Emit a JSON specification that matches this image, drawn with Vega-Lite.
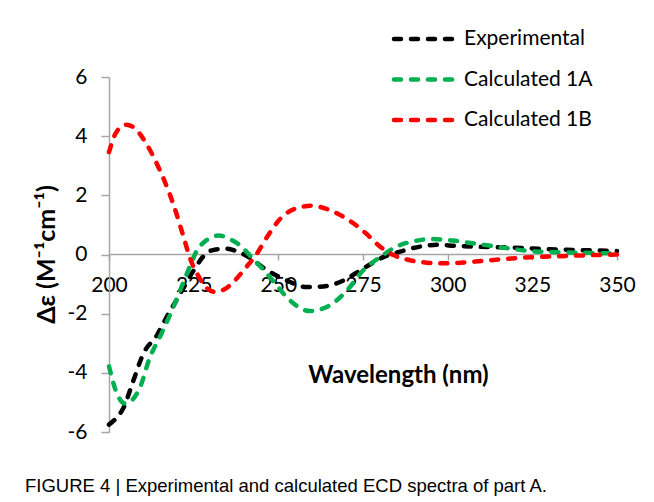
{
  "$schema": "https://vega.github.io/schema/vega-lite/v6.json",
  "width": 508,
  "height": 355,
  "autosize": {"type": "none"},
  "padding": {"left": 109, "top": 77, "right": 37, "bottom": 70},
  "background": "white",
  "config": {"view": {"stroke": null}, "font": "Lato"},
  "title": {
    "text": "FIGURE 4 | Experimental and calculated ECD spectra of part A.",
    "orient": "bottom",
    "anchor": "start",
    "frame": "group",
    "font": "Liberation Sans",
    "fontSize": 18.5,
    "fontWeight": "normal",
    "color": "black",
    "offset": 35,
    "dx": -84
  },
  "data": {
    "values": [
      {"series": "Experimental", "wl": 200, "de": -5.75},
      {"series": "Experimental", "wl": 202, "de": -5.55},
      {"series": "Experimental", "wl": 204.2, "de": -5.2},
      {"series": "Experimental", "wl": 207.2, "de": -4.26},
      {"series": "Experimental", "wl": 210.1, "de": -3.36},
      {"series": "Experimental", "wl": 214.1, "de": -2.74},
      {"series": "Experimental", "wl": 217, "de": -2.12},
      {"series": "Experimental", "wl": 221, "de": -1.33},
      {"series": "Experimental", "wl": 225, "de": -0.54},
      {"series": "Experimental", "wl": 228.8, "de": 0.05},
      {"series": "Experimental", "wl": 231.5, "de": 0.17},
      {"series": "Experimental", "wl": 234.5, "de": 0.2},
      {"series": "Experimental", "wl": 237.5, "de": 0.12},
      {"series": "Experimental", "wl": 240.7, "de": -0.05},
      {"series": "Experimental", "wl": 246.5, "de": -0.52},
      {"series": "Experimental", "wl": 252.5, "de": -0.88},
      {"series": "Experimental", "wl": 258.3, "de": -1.1},
      {"series": "Experimental", "wl": 263.3, "de": -1.08},
      {"series": "Experimental", "wl": 269.2, "de": -0.88},
      {"series": "Experimental", "wl": 275, "de": -0.48},
      {"series": "Experimental", "wl": 281, "de": -0.09},
      {"series": "Experimental", "wl": 286, "de": 0.1},
      {"series": "Experimental", "wl": 292, "de": 0.27},
      {"series": "Experimental", "wl": 297, "de": 0.33},
      {"series": "Experimental", "wl": 302.5, "de": 0.29},
      {"series": "Experimental", "wl": 309.5, "de": 0.26},
      {"series": "Experimental", "wl": 318, "de": 0.24},
      {"series": "Experimental", "wl": 327.5, "de": 0.19},
      {"series": "Experimental", "wl": 335, "de": 0.16},
      {"series": "Experimental", "wl": 343, "de": 0.14},
      {"series": "Experimental", "wl": 350, "de": 0.12},
      {"series": "Calculated 1A", "wl": 200, "de": -3.78},
      {"series": "Calculated 1A", "wl": 202, "de": -4.6},
      {"series": "Calculated 1A", "wl": 204.7, "de": -5.04},
      {"series": "Calculated 1A", "wl": 207, "de": -4.9},
      {"series": "Calculated 1A", "wl": 209.2, "de": -4.48},
      {"series": "Calculated 1A", "wl": 212, "de": -3.5},
      {"series": "Calculated 1A", "wl": 215, "de": -2.79},
      {"series": "Calculated 1A", "wl": 219, "de": -1.78},
      {"series": "Calculated 1A", "wl": 223, "de": -0.65},
      {"series": "Calculated 1A", "wl": 226, "de": 0.14},
      {"series": "Calculated 1A", "wl": 229, "de": 0.5},
      {"series": "Calculated 1A", "wl": 232.5, "de": 0.64},
      {"series": "Calculated 1A", "wl": 236, "de": 0.5},
      {"series": "Calculated 1A", "wl": 239, "de": 0.28},
      {"series": "Calculated 1A", "wl": 242.5, "de": -0.15},
      {"series": "Calculated 1A", "wl": 245.5, "de": -0.5},
      {"series": "Calculated 1A", "wl": 248.5, "de": -0.9},
      {"series": "Calculated 1A", "wl": 253.4, "de": -1.55},
      {"series": "Calculated 1A", "wl": 259.3, "de": -1.91},
      {"series": "Calculated 1A", "wl": 265.2, "de": -1.72},
      {"series": "Calculated 1A", "wl": 270.2, "de": -1.22},
      {"series": "Calculated 1A", "wl": 275, "de": -0.54},
      {"series": "Calculated 1A", "wl": 280, "de": -0.09},
      {"series": "Calculated 1A", "wl": 285, "de": 0.27},
      {"series": "Calculated 1A", "wl": 290, "de": 0.45},
      {"series": "Calculated 1A", "wl": 295.5, "de": 0.52},
      {"series": "Calculated 1A", "wl": 301.5, "de": 0.47},
      {"series": "Calculated 1A", "wl": 308.5, "de": 0.36},
      {"series": "Calculated 1A", "wl": 315.5, "de": 0.25},
      {"series": "Calculated 1A", "wl": 325, "de": 0.11},
      {"series": "Calculated 1A", "wl": 335, "de": 0.07},
      {"series": "Calculated 1A", "wl": 350, "de": 0.04},
      {"series": "Calculated 1B", "wl": 200, "de": 3.46},
      {"series": "Calculated 1B", "wl": 202, "de": 4.1},
      {"series": "Calculated 1B", "wl": 205, "de": 4.39},
      {"series": "Calculated 1B", "wl": 207.5, "de": 4.28},
      {"series": "Calculated 1B", "wl": 211, "de": 3.75},
      {"series": "Calculated 1B", "wl": 215, "de": 2.85},
      {"series": "Calculated 1B", "wl": 219, "de": 1.7},
      {"series": "Calculated 1B", "wl": 222, "de": 0.6},
      {"series": "Calculated 1B", "wl": 224, "de": -0.15},
      {"series": "Calculated 1B", "wl": 226.5, "de": -0.75},
      {"series": "Calculated 1B", "wl": 229, "de": -1.15},
      {"series": "Calculated 1B", "wl": 231.5, "de": -1.27},
      {"series": "Calculated 1B", "wl": 234, "de": -1.18},
      {"series": "Calculated 1B", "wl": 237, "de": -0.9},
      {"series": "Calculated 1B", "wl": 240, "de": -0.5},
      {"series": "Calculated 1B", "wl": 243.5, "de": 0.0},
      {"series": "Calculated 1B", "wl": 247, "de": 0.65},
      {"series": "Calculated 1B", "wl": 250.5, "de": 1.2},
      {"series": "Calculated 1B", "wl": 255, "de": 1.55},
      {"series": "Calculated 1B", "wl": 260, "de": 1.65},
      {"series": "Calculated 1B", "wl": 264, "de": 1.55},
      {"series": "Calculated 1B", "wl": 268, "de": 1.35},
      {"series": "Calculated 1B", "wl": 272, "de": 1.07},
      {"series": "Calculated 1B", "wl": 276, "de": 0.7},
      {"series": "Calculated 1B", "wl": 280, "de": 0.27},
      {"series": "Calculated 1B", "wl": 284, "de": -0.02},
      {"series": "Calculated 1B", "wl": 288, "de": -0.17},
      {"series": "Calculated 1B", "wl": 292.5, "de": -0.26},
      {"series": "Calculated 1B", "wl": 297.5, "de": -0.3},
      {"series": "Calculated 1B", "wl": 302, "de": -0.29},
      {"series": "Calculated 1B", "wl": 308, "de": -0.24},
      {"series": "Calculated 1B", "wl": 315, "de": -0.17},
      {"series": "Calculated 1B", "wl": 322, "de": -0.11},
      {"series": "Calculated 1B", "wl": 330, "de": -0.07},
      {"series": "Calculated 1B", "wl": 340, "de": -0.03},
      {"series": "Calculated 1B", "wl": 350, "de": 0.0}
    ]
  },
  "mark": {
    "type": "line",
    "strokeWidth": 4.5,
    "strokeDash": [7, 10],
    "strokeCap": "round",
    "interpolate": "monotone",
    "clip": false
  },
  "encoding": {
    "x": {
      "field": "wl",
      "type": "quantitative",
      "scale": {"domain": [200, 350], "nice": false, "zero": false},
      "axis": {
        "values": [200, 225, 250, 275, 300, 325, 350],
        "grid": false,
        "offset": -178,
        "domainColor": "#A6A6A6",
        "domainWidth": 1.5,
        "tickColor": "#A6A6A6",
        "tickWidth": 1.5,
        "tickSize": 6,
        "labelFont": "Lato",
        "labelFontSize": 21,
        "labelColor": "black",
        "labelPadding": 14,
        "labelFlush": false,
        "labelOverlap": false,
        "title": "Wavelength (nm)",
        "titleFont": "Lato",
        "titleFontSize": 24,
        "titleFontWeight": "bold",
        "titleColor": "black",
        "titleX": 289,
        "titleY": 121,
        "titleAlign": "center",
        "titleBaseline": "middle"
      }
    },
    "y": {
      "field": "de",
      "type": "quantitative",
      "scale": {"domain": [-6, 6], "nice": false},
      "axis": {
        "values": [-6, -4, -2, 0, 2, 4, 6],
        "grid": false,
        "domainColor": "#A6A6A6",
        "domainWidth": 1.5,
        "tickColor": "#A6A6A6",
        "tickWidth": 1.5,
        "tickSize": 8,
        "labelExpr": "'' + datum.value",
        "labelFont": "Lato",
        "labelFontSize": 21,
        "labelColor": "black",
        "labelPadding": 14,
        "labelFlush": false,
        "labelOverlap": false,
        "title": "Δε (M⁻¹cm⁻¹)",
        "titleFont": "Lato",
        "titleFontSize": 25,
        "titleFontWeight": "bold",
        "titleColor": "black",
        "titleX": -63,
        "titleY": 177,
        "titleAngle": -90,
        "titleAlign": "center",
        "titleBaseline": "middle"
      }
    },
    "color": {
      "field": "series",
      "type": "nominal",
      "sort": ["Experimental", "Calculated 1A", "Calculated 1B"],
      "scale": {
        "domain": ["Experimental", "Calculated 1A", "Calculated 1B"],
        "range": ["#000000", "#00B050", "#FF0000"]
      },
      "legend": {
        "orient": "none",
        "legendX": 299,
        "legendY": -57,
        "title": null,
        "symbolType": "M-2,0H2",
        "symbolSize": 1089,
        "symbolStrokeWidth": 4.5,
        "symbolDash": [7, 10],
        "labelFont": "Lato",
        "labelFontSize": 21,
        "labelColor": "black",
        "labelOffset": 18,
        "rowPadding": 11.5,
        "encode": {"symbols": {"update": {"strokeCap": {"value": "round"}, "fill": {"value": "transparent"}}}}
      }
    }
  }
}
